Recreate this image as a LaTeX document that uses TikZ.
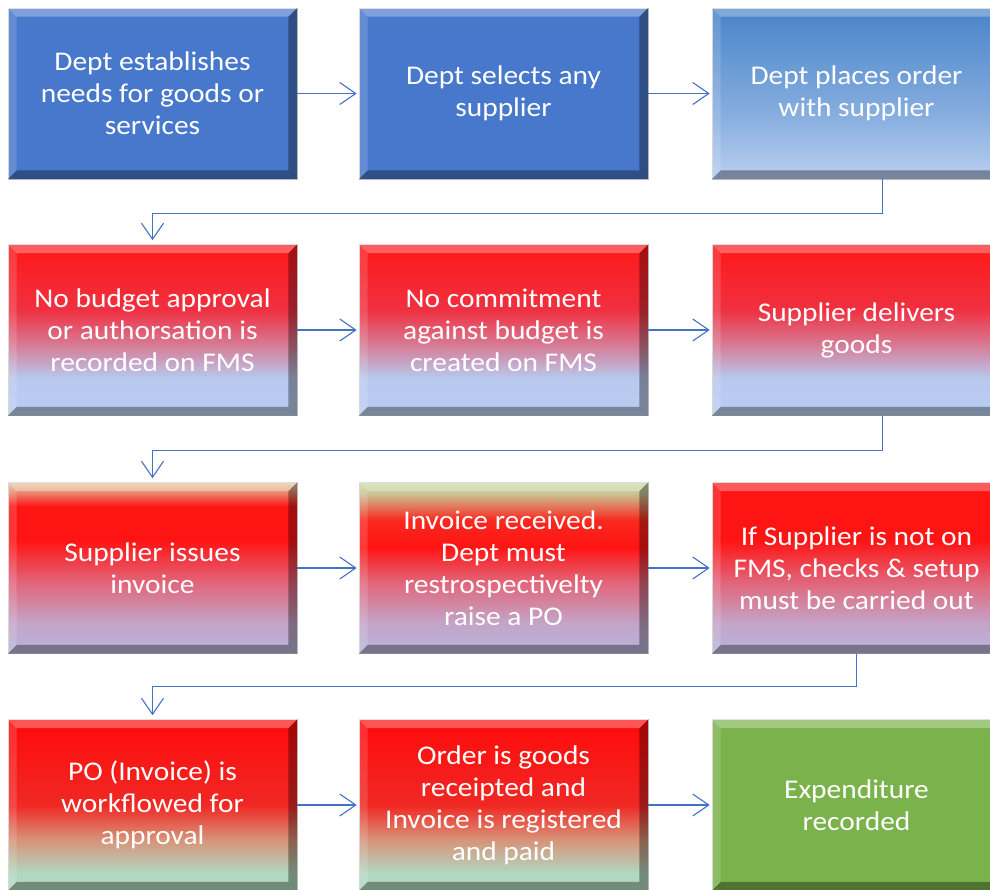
\documentclass[tikz,border=0pt]{standalone}
\usepackage{fontspec}
\setmainfont{Carlito}[FakeStretch=1.09]
\usepackage{xcolor}
\usetikzlibrary{arrows.meta}

\definecolor{linkblue}{HTML}{4472C4}
\definecolor{solidblue}{HTML}{4878CC}
\definecolor{solidgreen}{HTML}{7AB24C}

% shadings: box bottom at 25bp, box top at 75bp
\pgfdeclareverticalshading{paleblue}{100bp}{color(0bp)=(rgb,255:red,184;green,206;blue,240);
  color(25bp)=(rgb,255:red,184;green,206;blue,240); color(45bp)=(rgb,255:red,132;green,172;blue,222);
  color(75bp)=(rgb,255:red,72;green,132;blue,200); color(100bp)=(rgb,255:red,72;green,132;blue,200)}
\pgfdeclareverticalshading{redblue}{100bp}{color(0bp)=(rgb,255:red,184;green,206;blue,242);
  color(25bp)=(rgb,255:red,184;green,206;blue,242); color(36bp)=(rgb,255:red,184;green,200;blue,238);
  color(46bp)=(rgb,255:red,216;green,120;blue,146); color(56bp)=(rgb,255:red,240;green,48;blue,64);
  color(75bp)=(rgb,255:red,255;green,24;blue,24); color(100bp)=(rgb,255:red,255;green,24;blue,24)}
\pgfdeclareverticalshading{redlilac}{100bp}{color(0bp)=(rgb,255:red,184;green,180;blue,218);
  color(25bp)=(rgb,255:red,184;green,180;blue,218); color(34bp)=(rgb,255:red,196;green,164;blue,200);
  color(46bp)=(rgb,255:red,226;green,100;blue,120); color(58bp)=(rgb,255:red,255;green,20;blue,20);
  color(75bp)=(rgb,255:red,255;green,20;blue,20); color(100bp)=(rgb,255:red,255;green,20;blue,20)}
\pgfdeclareverticalshading{tanlilac}{100bp}{color(0bp)=(rgb,255:red,184;green,180;blue,218);
  color(25bp)=(rgb,255:red,184;green,180;blue,218); color(34bp)=(rgb,255:red,196;green,164;blue,200);
  color(46bp)=(rgb,255:red,226;green,100;blue,120); color(58bp)=(rgb,255:red,255;green,20;blue,20);
  color(68bp)=(rgb,255:red,255;green,20;blue,20); color(73bp)=(rgb,255:red,230;green,160;blue,130);
  color(75bp)=(rgb,255:red,226;green,200;blue,160); color(100bp)=(rgb,255:red,226;green,200;blue,160)}
\pgfdeclareverticalshading{olivelilac}{100bp}{color(0bp)=(rgb,255:red,184;green,180;blue,218);
  color(25bp)=(rgb,255:red,184;green,180;blue,218); color(34bp)=(rgb,255:red,196;green,164;blue,200);
  color(46bp)=(rgb,255:red,226;green,100;blue,120); color(56bp)=(rgb,255:red,255;green,20;blue,20);
  color(64bp)=(rgb,255:red,250;green,40;blue,30); color(72bp)=(rgb,255:red,200;green,200;blue,150);
  color(75bp)=(rgb,255:red,200;green,216;blue,160); color(100bp)=(rgb,255:red,200;green,216;blue,160)}
\pgfdeclareverticalshading{redmint}{100bp}{color(0bp)=(rgb,255:red,176;green,216;blue,192);
  color(25bp)=(rgb,255:red,176;green,216;blue,192); color(30bp)=(rgb,255:red,176;green,216;blue,192);
  color(40bp)=(rgb,255:red,216;green,146;blue,120); color(50bp)=(rgb,255:red,240;green,40;blue,36);
  color(75bp)=(rgb,255:red,255;green,10;blue,10); color(100bp)=(rgb,255:red,255;green,10;blue,10)}

\newcommand{\boxfont}{\fontsize{27}{32}\selectfont}

% bevelled edge of a box
\newcommand{\bevel}[1]{%
  \fill[white,opacity=.3] (#1.north west) -- (#1.north east) -- ([shift={(-9pt,-9pt)}]#1.north east) -- ([shift={(9pt,-9pt)}]#1.north west) -- cycle;
  \fill[white,opacity=.15] (#1.north west) -- ([shift={(9pt,-9pt)}]#1.north west) -- ([shift={(9pt,9pt)}]#1.south west) -- (#1.south west) -- cycle;
  \fill[black,opacity=.35] (#1.north east) -- ([shift={(-9pt,-9pt)}]#1.north east) -- ([shift={(-9pt,9pt)}]#1.south east) -- (#1.south east) -- cycle;
  \fill[black,opacity=.35] (#1.south west) -- ([shift={(9pt,9pt)}]#1.south west) -- ([shift={(-9pt,9pt)}]#1.south east) -- (#1.south east) -- cycle;
}

\begin{document}
\begin{tikzpicture}[x=1pt, y=-1pt,
    stepbox/.style={rectangle, minimum width=289pt, minimum height=171pt, inner sep=0pt,
      draw=gray!35, line width=0.6pt, text=white, align=center, font=\boxfont},
    conn/.style={draw=linkblue, line width=1.1pt, -{Straight Barb[length=16pt,width=22pt]}}]
		\useasboundingbox (0,0) rectangle (990,889);
		\fill[white] (0,0) rectangle (990,889);
		%
		%Row 1
		\node[stepbox, fill=solidblue] (b1) at (152.5,93.5) {Dept establishes\\needs for goods or\\services};
		\node[stepbox, fill=solidblue] (b2) at (503.5,93.5) {Dept selects any\\supplier};
		\node[stepbox, shading=paleblue] (b3) at (856.5,93.5) {Dept places order\\with supplier};
		%
		%Row 2
		\node[stepbox, shading=redblue] (b4) at (152.5,330) {No budget approval\\or authorsation is\\recorded on FMS};
		\node[stepbox, shading=redblue] (b5) at (503.5,330) {No commitment\\against budget is\\created on FMS};
		\node[stepbox, shading=redblue] (b6) at (856.5,330) {Supplier delivers\\goods};
		%
		%Row 3
		\node[stepbox, shading=tanlilac] (b7) at (152.5,568) {Supplier issues\\invoice};
		\node[stepbox, shading=olivelilac] (b8) at (503.5,568) {Invoice received.\\Dept must\\restrospectivelty\\raise a PO};
		\node[stepbox, shading=redlilac] (b9) at (856.5,568) {If Supplier is not on\\FMS, checks \& setup\\must be carried out};
		%
		%Row 4
		\node[stepbox, shading=redmint] (b10) at (152.5,805) {PO (Invoice) is\\workflowed for\\approval};
		\node[stepbox, shading=redmint] (b11) at (503.5,805) {Order is goods\\receipted and\\Invoice is registered\\and paid};
		\node[stepbox, fill=solidgreen] (b12) at (856.5,805) {Expenditure\\recorded};
		%
		%Bevels
		\foreach \n in {b1,b2,b3,b4,b5,b6,b7,b8,b9,b10,b11,b12}
			\bevel{\n};
		%
		%Arrows along the rows
		\draw[conn, shorten >=2pt] (b1.east) -- (b2.west);
		\draw[conn, shorten >=2pt] (b2.east) -- (b3.west);
		\draw[conn, shorten >=2pt] (b4.east) -- (b5.west);
		\draw[conn, shorten >=2pt] (b5.east) -- (b6.west);
		\draw[conn, shorten >=2pt] (b7.east) -- (b8.west);
		\draw[conn, shorten >=2pt] (b8.east) -- (b9.west);
		\draw[conn, shorten >=2pt] (b10.east) -- (b11.west);
		\draw[conn, shorten >=2pt] (b11.east) -- (b12.west);
		%
		%Arrows between the rows
		\draw[conn, shorten >=4pt] ([xshift=26pt]b3.south) -- ++(0,34) -| (b4.north);
		\draw[conn, shorten >=4pt] ([xshift=26pt]b6.south) -- ++(0,35) -| (b7.north);
		\draw[conn, shorten >=4pt] (b9.south) -- ++(0,33) -| (b10.north);
\end{tikzpicture}
\end{document}
